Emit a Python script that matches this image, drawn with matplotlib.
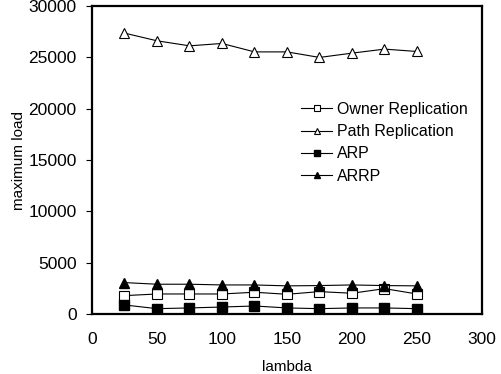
import matplotlib
matplotlib.use("Agg")
import matplotlib.pyplot as plt

plt.rcParams['font.family'] = ['Liberation Sans', 'DejaVu Sans']

lam = [25, 50, 75, 100, 125, 150, 175, 200, 225, 250]
owner = [1790, 1950, 1950, 1950, 2120, 1920, 2180, 2020, 2470, 1950]
path = [27360, 26610, 26120, 26350, 25530, 25530, 24990, 25410, 25800, 25570]
arp = [880, 520, 590, 680, 780, 590, 520, 590, 590, 520]
arrp = [3060, 2900, 2900, 2830, 2830, 2740, 2770, 2830, 2770, 2740]

xticks = [0, 50, 100, 150, 200, 250, 300]
yticks = [0, 5000, 10000, 15000, 20000, 25000, 30000]

fig = plt.figure(figsize=(5.02, 3.74), dpi=100)
ax = fig.add_axes([92 / 502, 1 - 314 / 374, 390 / 502, 308 / 374])

lw = 0.8
ax.plot(lam, owner, color='black', lw=lw, marker='s', ms=6.5, mfc='white', mec='black', mew=0.8,
        label='Owner Replication')
ax.plot(lam, path, color='black', lw=lw, marker='^', ms=7, mfc='white', mec='black', mew=0.8,
        label='Path Replication')
ax.plot(lam, arp, color='black', lw=lw, marker='s', ms=7, mfc='black', mec='black',
        label='ARP')
ax.plot(lam, arrp, color='black', lw=lw, marker='^', ms=7.5, mfc='black', mec='black',
        label='ARRP')

ax.set_xlim(0, 300)
ax.set_ylim(0, 30000)
ax.set_xticks(xticks)
ax.set_yticks(yticks)
ax.tick_params(axis='y', direction='out', length=4, width=0.8, labelsize=12.5, pad=7)
ax.tick_params(axis='x', direction='in', length=3, width=0.8, labelsize=12.5, pad=13)
for s in ax.spines.values():
    s.set_linewidth(1.6)

ax.set_xlabel('lambda', fontsize=11, labelpad=9)
ax.set_ylabel('maximum load', fontsize=11, labelpad=2)

ax.legend(loc='upper left', bbox_to_anchor=(0.5, 0.735), frameon=False, fontsize=11.5,
          handlelength=1.9, handletextpad=0.3, labelspacing=0.45, markerscale=0.6)

fig.savefig('out.png', dpi=100)
